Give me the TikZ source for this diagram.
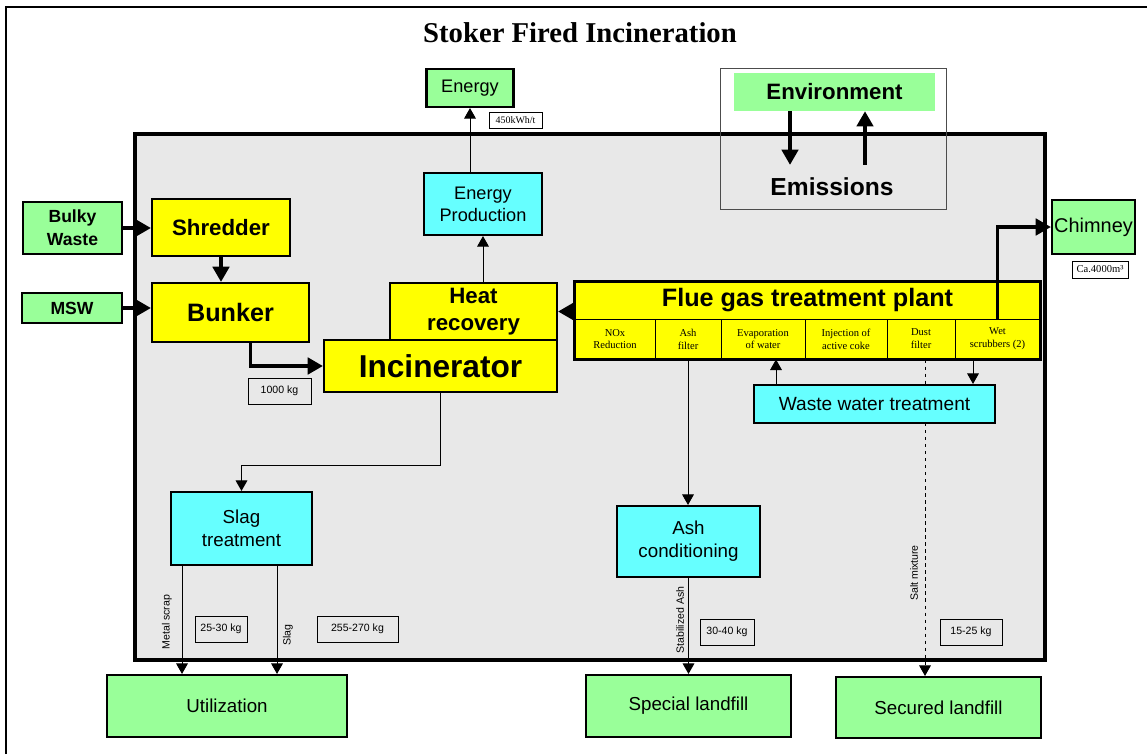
\documentclass[tikz,border=0pt]{standalone}
\usepackage{fontspec}
\setmainfont{Liberation Sans}
\newfontfamily\tnr{Liberation Serif}
\usetikzlibrary{arrows.meta}
\definecolor{lgreen}{HTML}{99FF99}
\definecolor{lyellow}{HTML}{FFFF00}
\definecolor{lcyan}{HTML}{66FFFF}
\definecolor{lgray}{HTML}{E8E8E8}
\def\px{0.03cm}
\newcommand{\fsz}[2]{\fontsize{#1}{#2}\selectfont}
\begin{document}
\begin{tikzpicture}[x=\px,y=-\px,
    box/.style={draw,line width=1.8pt,inner sep=0pt,align=center},
    grnbox/.style={box,fill=lgreen},
    ylwbox/.style={box,fill=lyellow},
    cynbox/.style={box,fill=lcyan},
    cell/.style={draw,line width=0.8pt,inner sep=0pt,align=center,fill=lyellow,minimum height=40*\px,font=\tnr\fsz{9}{11}},
    lbl/.style={draw,line width=0.6pt,inner sep=0pt,font=\fsz{9}{11}},
    rot/.style={rotate=90,inner sep=1pt,font=\fsz{9}{11}},
    arr/.style={line width=0.8pt,-{Triangle[length=9pt,width=10pt]}},
    bigarr/.style={line width=3pt,-{Triangle[length=13pt,width=14pt]}},
    sz/.style 2 args={minimum width=#1*\px,minimum height=#2*\px}]
    \useasboundingbox (0,0) rectangle (1147,754);
    \draw[line width=1.8pt] (6,754) -- (6,7) -- (1147,7);
    \draw[line width=3.2pt,fill=lgray] (135,134) rectangle (1045,660);
    \node[font=\tnr\bfseries\fsz{24.5}{28}] (title) at (580,33) {Stoker Fired Incineration};
    % top
    \node[grnbox,sz={87}{38},font=\fsz{15.5}{19}] (energy) at (470,88) {Energy};
    \node[lbl,sz={53}{16},font=\tnr\fsz{8.5}{10}] (kwh) at (515.5,120) {450kWh/t};
    \node[draw=black!70,line width=0.8pt,sz={226}{141}] (envbox) at (833,138.5) {};
    \node[fill=lgreen,inner sep=0pt,sz={201}{38},font=\bfseries\fsz{19}{22}] (env) at (834.5,92) {Environment};
    \node[inner xsep=2pt,inner ysep=11pt,font=\bfseries\fsz{21}{24}] (emis) at (832,187) {Emissions};
    \draw[bigarr] ([xshift=-44.5*\px]env.south) -- ([xshift=-44.5*\px]env.south |- emis.north);
    \draw[bigarr] ([xshift=30.5*\px]env.south |- emis.north) -- ([xshift=30.5*\px]env.south);
    % left part
    \node[cynbox,sz={118}{62},font=\fsz{15.5}{19}] (ep) at (483,204) {Energy\\Production};
    \node[grnbox,sz={99}{52},font=\bfseries\fsz{15}{19.5}] (bulky) at (72.5,228) {Bulky\\Waste};
    \node[ylwbox,sz={138}{57},font=\bfseries\fsz{19}{23}] (shredder) at (221,227.5) {Shredder};
    \node[grnbox,sz={100}{30},font=\bfseries\fsz{15}{19}] (msw) at (72,308) {MSW};
    \node[ylwbox,sz={157}{59},font=\bfseries\fsz{21.5}{25}] (bunker) at (230.5,312.5) {Bunker};
    \node[ylwbox,sz={167}{57},font=\bfseries\fsz{19}{23}] (heat) at (473.5,311.5) {Heat\\recovery};
    \node[ylwbox,sz={233}{52},font=\bfseries\fsz{27}{30}] (incin) at (440.5,366) {Incinerator};
    \node[lbl,sz={63}{26}] (kgA) at (279.5,391) {1000 kg};
    % flue gas treatment
    \node[ylwbox,line width=0.8pt,sz={465}{37},font=\bfseries\fsz{21.5}{25}] (flue) at (807.5,300.5) {Flue gas treatment plant};
    \node[cell,minimum width=80*\px] (nox) at (615,339) {NOx\\Reduction};
    \node[cell,minimum width=66*\px] (ashf) at (688,339) {Ash\\filter};
    \node[cell,minimum width=84*\px] (evap) at (763,339) {Evaporation\\of water};
    \node[cell,minimum width=82*\px] (coke) at (846,339) {Injection of\\active coke};
    \node[cell,minimum width=68*\px] (dust) at (921,339) {Dust\\filter};
    \node[cell,minimum width=85*\px] (wet) at (997.5,339) {Wet\\scrubbers (2)};
    \draw[line width=1.8pt] (flue.north west) rectangle (wet.south east);
    \node[grnbox,sz={83}{54},font=\fsz{17}{20}] (chimney) at (1093.5,227) {Chimney};
    \node[lbl,sz={56}{17},font=\tnr\fsz{9}{10}] (ca) at (1100,269.5) {Ca.4000m³};
    % lower part
    \node[cynbox,sz={143}{71},font=\fsz{16}{19.6}] (ashcond) at (688.5,541.5) {Ash\\conditioning};
    \node[cynbox,sz={141}{73},font=\fsz{16}{19.6}] (slag) at (241.5,528.5) {Slag\\treatment};
    \node[lbl,sz={52}{26}] (kgB) at (221,629) {25-30 kg};
    \node[lbl,sz={81}{26}] (kgC) at (357.5,629) {255-270 kg};
    \node[lbl,sz={54}{26}] (kgD) at (727,632) {30-40 kg};
    \node[lbl,sz={62}{26}] (kgE) at (971,632) {15-25 kg};
    \node[grnbox,sz={240}{62},font=\fsz{16}{19}] (util) at (227,706) {Utilization};
    \node[grnbox,sz={205}{62},font=\fsz{16}{19}] (special) at (688.5,706) {Special landfill};
    \node[grnbox,sz={205}{61},font=\fsz{16}{19}] (secured) at (938.5,707.5) {Secured landfill};
    \draw[arr,dashed] ([xshift=4*\px]dust.south) -- ([xshift=4*\px]dust.south |- secured.north);
    \node[cynbox,sz={241}{38},font=\fsz{16.3}{19}] (wwt) at (874.5,404) {Waste water treatment};
    \node[rot] (saltlbl) at (914,573) {Salt mixture};
    \node[rot] (metallbl) at (167,622) {Metal scrap};
    \node[rot] (slaglbl) at (288,635) {Slag};
    \node[rot] (stablbl) at (680,620) {Stabilized Ash};
    % connectors
    \draw[arr] (ep.north -| energy.south) -- (energy.south);
    \draw[arr] (ep.south |- heat.north) -- (ep.south);
    \draw[bigarr] (bulky.east) -- (bulky.east -| shredder.west);
    \draw[bigarr] (msw.east) -- (msw.east -| bunker.west);
    \draw[bigarr] (shredder.south) -- (shredder.south |- bunker.north);
    \draw[bigarr] ([xshift=20*\px]bunker.south) |- (incin.west);
    \draw[bigarr] (heat.east -| flue.west) -- (heat.east);
    \draw[bigarr] (wet.north) |- (chimney.west);
    \draw[arr] (incin.south) -- ++(0,72) -| (slag.north);
    \draw[arr] (ashf.south) -- (ashf.south |- ashcond.north);
    \draw[arr] ([xshift=13*\px]evap.south |- wwt.north) -- ([xshift=13*\px]evap.south);
    \draw[arr] ([xshift=-24.5*\px]wet.south) -- ([xshift=-24.5*\px]wet.south |- wwt.north);
    \draw[arr] ([xshift=-59.5*\px]slag.south) -- ([xshift=-59.5*\px]slag.south |- util.north);
    \draw[arr] ([xshift=35.5*\px]slag.south) -- ([xshift=35.5*\px]slag.south |- util.north);
    \draw[arr] (ashcond.south) -- (ashcond.south |- special.north);
\end{tikzpicture}
\end{document}
